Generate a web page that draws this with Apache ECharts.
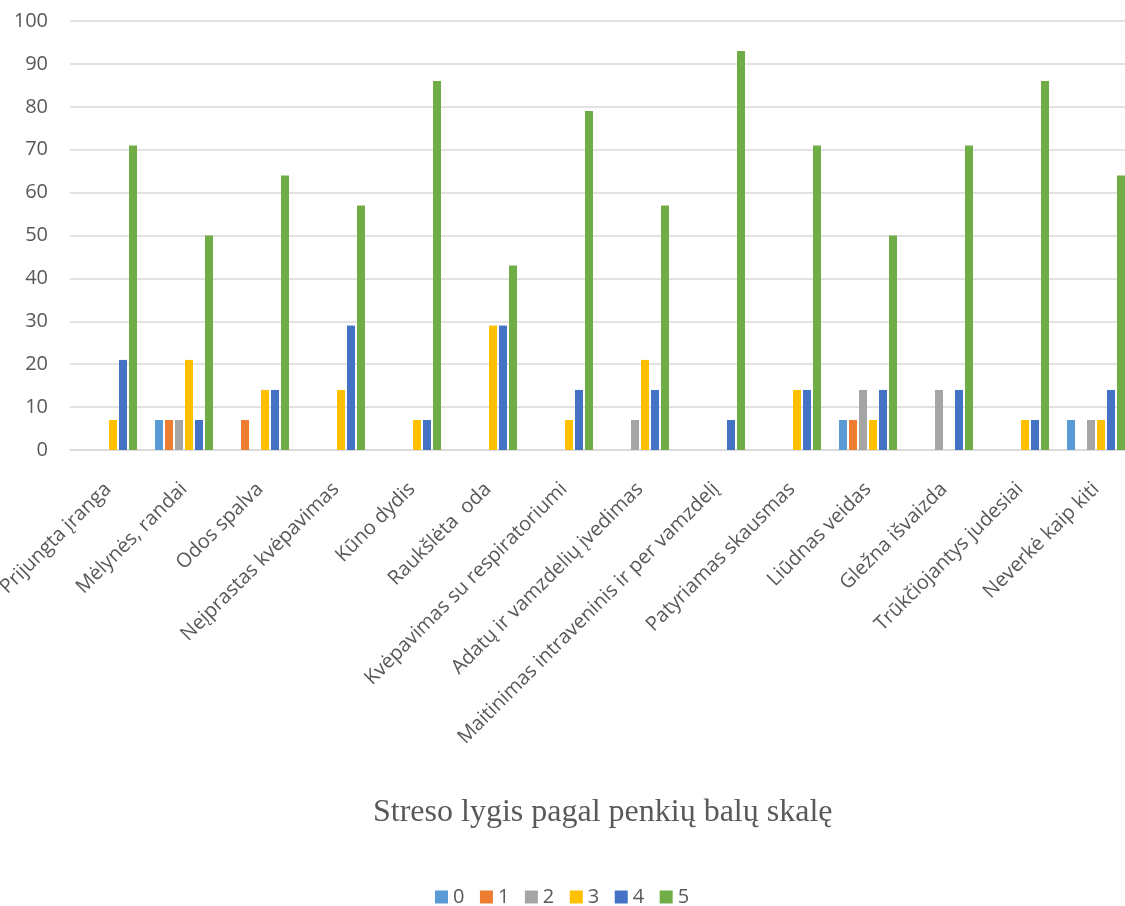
<!DOCTYPE html>
<html>
<head>
<meta charset="utf-8">
<script src="https://cdn.jsdelivr.net/npm/echarts@6/dist/echarts.min.js"></script>
<style>
  html, body { margin: 0; padding: 0; background: #fff; }
  #main { width: 1125px; height: 906px; }
</style>
</head>
<body>
<div id="main"></div>
<script>
// kategorijos (x asis)
var categories = [
  'Prijungta įranga', 'Mėlynės, randai', 'Odos spalva', 'Neįprastas kvėpavimas',
  'Kūno dydis', 'Raukšlėta  oda', 'Kvėpavimas su respiratoriumi',
  'Adatų ir vamzdelių įvedimas', 'Maitinimas intraveninis ir per vamzdelį',
  'Patyriamas skausmas', 'Liūdnas veidas', 'Gležna išvaizda',
  'Trūkčiojantys judesiai', 'Neverkė kaip kiti'
];
// streso lygiai 0..5
var level0 = [0, 7, 0, 0, 0, 0, 0, 0, 0, 0, 7, 0, 0, 7];
var level1 = [0, 7, 7, 0, 0, 0, 0, 0, 0, 0, 7, 0, 0, 0];
var level2 = [0, 7, 0, 0, 0, 0, 0, 7, 0, 0, 14, 14, 0, 7];
var level3 = [7, 21, 14, 14, 7, 29, 7, 21, 0, 14, 7, 0, 7, 7];
var level4 = [21, 7, 14, 29, 7, 29, 14, 14, 7, 14, 14, 14, 7, 14];
var level5 = [71, 50, 64, 57, 86, 43, 79, 57, 93, 71, 50, 71, 86, 64];
var yTicks = [0, 10, 20, 30, 40, 50, 60, 70, 80, 90, 100];

var colors = ['#5B9BD5', '#ED7D31', '#A5A5A5', '#FFC000', '#4472C4', '#70AD47'];
var seriesData = [level0, level1, level2, level3, level4, level5];

var txt = '#595959';
var font = 'Open Sans';

var series = [];
for (var i = 0; i < seriesData.length; i++) {
  series.push({
    name: String(i),
    type: 'bar',
    data: seriesData[i],
    barWidth: 8,
    barGap: '25%',
    itemStyle: { color: colors[i] }
  });
}

var chart = echarts.init(document.getElementById('main'));
chart.setOption({
  backgroundColor: '#ffffff',
  animation: false,
  color: colors,
  title: {
    text: 'Streso lygis pagal penkių balų skalę',
    left: 368,
    top: 792,
    textStyle: { fontFamily: 'Liberation Serif', fontSize: 32, fontWeight: 'normal', color: txt }
  },
  legend: {
    top: 882,
    left: 430,
    itemWidth: 13,
    itemHeight: 13,
    itemGap: 15.5,
    icon: 'rect',
    textStyle: { fontFamily: font, fontSize: 20, color: txt },
    data: ['0', '1', '2', '3', '4', '5']
  },
  grid: { left: 70, top: 21, right: -9, height: 429, containLabel: false, outerBoundsMode: 'none' },
  xAxis: {
    type: 'category',
    data: categories,
    axisLine: { lineStyle: { color: '#D9D9D9', width: 1.5 } },
    axisTick: { show: false },
    axisLabel: {
      rotate: 45,
      interval: 0,
      margin: 36,
      fontFamily: font,
      fontSize: 20,
      color: txt
    }
  },
  yAxis: {
    type: 'value',
    min: 0,
    max: 100,
    interval: 10,
    axisLine: { show: false },
    axisTick: { show: false },
    splitLine: { lineStyle: { color: '#D9D9D9', width: 1.5 } },
    axisLabel: {
      margin: 22,
      fontFamily: font,
      fontSize: 20,
      color: txt,
      formatter: function (v) { return yTicks.indexOf(v) >= 0 ? String(v) : ''; }
    }
  },
  series: series
});
</script>
</body>
</html>
